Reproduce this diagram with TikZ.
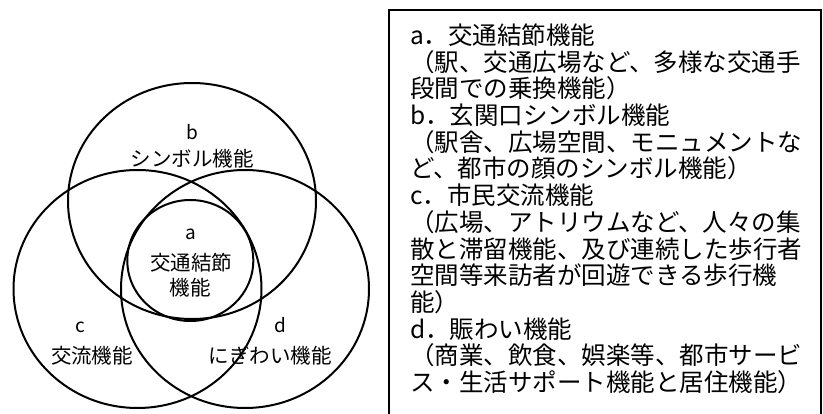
\documentclass[tikz,border=0pt]{standalone}
\usepackage{fontspec}
\setmainfont{Noto Sans CJK JP}

\begin{document}
\begin{tikzpicture}[x=1pt,y=-1pt,
    ring/.style={line width=2pt},
    letter/.style={anchor=base,inner sep=0pt,font=\fontsize{19}{22}\selectfont},
    lbl/.style={anchor=base,inner sep=0pt,font=\fontsize{20.5}{24}\selectfont},
    boxline/.style={anchor=base west,inner sep=0pt,font=\fontsize{24.5}{27}\selectfont}]
        \useasboundingbox (0,0) rectangle (823,414);
        % the four circles
        \draw[ring] (192,201) ellipse (124 and 118);
        \draw[ring] (137.5,289) ellipse (124 and 119);
        \draw[ring] (245,289) ellipse (124 and 119);
        \draw[ring] (190.3,260.5) ellipse (63 and 60.5);
        % circle labels
        \node[letter] (lb) at (192,140) {b};
        \node[lbl] (tb) at (192,167) {シンボル機能};
        \node[letter] (la) at (190.5,240) {a};
        \node[lbl] (ta1) at (191,271) {交通結節};
        \node[lbl] (ta2) at (190,296) {機能};
        \node[letter] (lc) at (80,333) {c};
        \node[lbl] (tc) at (92,364) {交流機能};
        \node[letter] (ld) at (280,333) {d};
        \node[lbl] (td) at (270,364) {にぎわい機能};
        % legend box (open at the bottom)
        \coordinate (bl) at (389,414);
        \coordinate (tl) at (389,10);
        \coordinate (tr) at (821,10);
        \coordinate (br) at (821,414);
        \draw[line width=2pt] (bl) -- (tl) -- (tr) -- (br);
        \foreach \txt [count=\i] in {a．交通結節機能,
            （駅、交通広場など、多様な交通手,
            段間での乗換機能）,
            b．玄関口シンボル機能,
            （駅舎、広場空間、モニュメントな,
            ど、都市の顔のシンボル機能）,
            c．市民交流機能,
            （広場、アトリウムなど、人々の集,
            散と滞留機能、及び連続した歩行者,
            空間等来訪者が回遊できる歩行機,
            能）,
            d．賑わい機能,
            （商業、飲食、娯楽等、都市サービ,
            ス・生活サポート機能と居住機能）}
            \node[boxline] (l\i) at (410,{44.5+26.7*(\i-1)}) {\txt};
    \end{tikzpicture}
\end{document}
